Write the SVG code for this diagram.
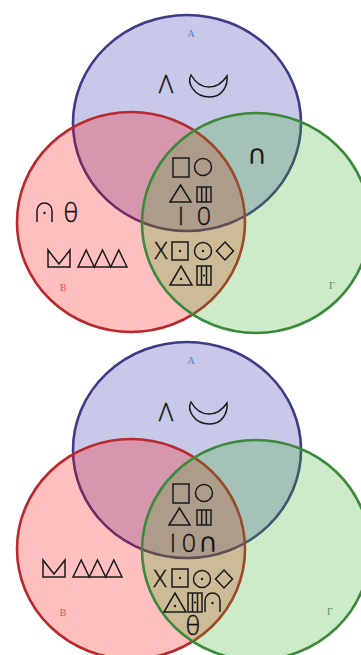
<svg xmlns="http://www.w3.org/2000/svg" width="361" height="655" viewBox="0 0 361 655">
<style>
.cA{fill:#2323a3;fill-opacity:.25;stroke:#3e3c86;stroke-width:2.6}
.cB{fill:#ff0000;fill-opacity:.25;stroke:#b8282c;stroke-width:2.6}
.cG{fill:#37af23;fill-opacity:.25;stroke:#3a8a3a;stroke-width:2.6}
.s{fill:none;stroke:#1a1a1a;stroke-width:1.5;stroke-linejoin:miter}
.dot{fill:#1a1a1a;stroke:none}
.t{font-family:"Open Sans","Liberation Sans","DejaVu Sans",sans-serif;font-weight:300;fill:#111111;stroke:#111111;stroke-width:0.4;text-anchor:middle}
.m{font-family:"DejaVu Sans",sans-serif;font-weight:400;fill:#1a1a1a;text-anchor:middle}
.lab{font-family:"Liberation Serif",serif;font-size:10px;text-anchor:middle}
.la{fill:#5b80c4}.lb{fill:#d05a5a}.lg{fill:#4f8f4f}
</style>
<defs>
<g id="sq" class="s"><rect x="0" y="0" width="16" height="19"/></g>
<g id="ci" class="s"><circle cx="8.5" cy="8.5" r="8.5"/></g>
<g id="tri" class="s"><path d="M0,17 L10.5,0 L21,17 Z"/></g>
<g id="bars" class="s"><rect width="14" height="15"/><path d="M4.7,0V15M9.3,0V15"/></g>
<g id="dsq"><rect class="s" width="16" height="18"/><circle class="dot" cx="8" cy="9" r="1.2"/></g>
<g id="dci"><circle class="s" cx="8.5" cy="8.5" r="8.5"/><circle class="dot" cx="8.5" cy="8.5" r="1.2"/></g>
<g id="dia" class="s"><path d="M8.5,0 L17,9 L8.5,18 L0,9 Z"/></g>
<g id="dtri"><path class="s" d="M0,19 L11,0 L22,19 Z"/><circle class="dot" cx="11" cy="13" r="1.2"/></g>
<g id="hbox"><rect class="s" width="14" height="19"/><path class="s" d="M4.5,0V19M9.5,0V19"/><circle class="dot" cx="7" cy="9.5" r="1.1"/></g>
<g id="arch"><path class="s" d="M0,19 V7.5 A7.5,7.5 0 0 1 15,7.5 V19"/><circle class="dot" cx="7.5" cy="10" r="1.2"/></g>
<g id="crown" class="s"><path d="M0,17 V0 L11,14 L22,0 V17 Z"/></g>
<g id="tris" class="s"><path d="M0,17 L8.2,0 L16.3,17 L24.5,0 L32.7,17 L40.8,0 L49,17 Z"/></g>
<g id="cres" class="s"><path d="M191,75 C187,82 193,97 210,97 C222,97 228,86 227,76 C221,85 215,87 209,87 C201,87 195,82 191,75 Z"/></g>
</defs>
<rect width="361" height="655" fill="#ffffff"/>

<g id="diagram1">
  <g id="d1-A"><ellipse class="cA" cx="187" cy="123" rx="114" ry="108"/><text class="lab la" x="191" y="37">A</text></g>
  <g id="d1-B"><ellipse class="cB" cx="131" cy="222" rx="114" ry="110"/><text class="lab lb" x="63" y="291">B</text></g>
  <g id="d1-G"><ellipse class="cG" cx="256" cy="223" rx="114" ry="110"/><text class="lab lg" x="332" y="289">Γ</text></g>
  <g id="d1-signs">
    <text class="t" x="166" y="93" font-size="25">Λ</text>
    <use href="#cres"/>
    <text class="m" x="257" y="164" font-size="27">∩</text>
    <use href="#sq" x="173" y="158"/>
    <use href="#ci" x="194.5" y="158.5"/>
    <use href="#tri" x="170" y="185"/>
    <use href="#bars" x="197" y="187"/>
    <text class="t" x="181" y="225" font-size="25">I</text>
    <text class="t" x="204" y="225" font-size="25">0</text>
    <text class="t" x="161" y="259" font-size="24">X</text>
    <use href="#dsq" x="172" y="242"/>
    <use href="#dci" x="194.5" y="242.5"/>
    <use href="#dia" x="216.5" y="242"/>
    <use href="#dtri" x="170" y="266"/>
    <use href="#hbox" x="197" y="266"/>
    <use href="#arch" x="37" y="203"/>
    <text class="t" x="71" y="222" font-size="25">θ</text>
    <use href="#crown" x="48" y="250"/>
    <use href="#tris" x="78" y="250"/>
  </g>
</g>

<g id="diagram2">
  <g id="d2-A"><ellipse class="cA" cx="187" cy="450" rx="114" ry="108"/><text class="lab la" x="191" y="364">A</text></g>
  <g id="d2-B"><ellipse class="cB" cx="131" cy="549" rx="114" ry="110"/><text class="lab lb" x="63" y="616">B</text></g>
  <g id="d2-G"><ellipse class="cG" cx="256" cy="550" rx="114" ry="110"/><text class="lab lg" x="330" y="615">Γ</text></g>
  <g id="d2-signs">
    <text class="t" x="166" y="421" font-size="25">Λ</text>
    <use href="#cres" y="327"/>
    <use href="#sq" x="173" y="484"/>
    <use href="#ci" x="195.5" y="484.5"/>
    <use href="#tri" x="169" y="508"/>
    <use href="#bars" x="197" y="510"/>
    <text class="t" x="173" y="552" font-size="25">I</text>
    <text class="t" x="189" y="552" font-size="25">0</text>
    <text class="m" x="208" y="552" font-size="27">∩</text>
    <use href="#crown" x="43" y="560"/>
    <use href="#tris" x="73" y="560"/>
    <text class="t" x="160" y="587" font-size="24">X</text>
    <use href="#dsq" x="172" y="569"/>
    <use href="#dci" x="193.5" y="570.5"/>
    <use href="#dia" x="215.5" y="570"/>
    <use href="#dtri" x="164" y="593"/>
    <use href="#hbox" x="188" y="593"/>
    <use href="#arch" x="205" y="593"/>
    <text class="t" x="193" y="635" font-size="25">θ</text>
  </g>
</g>
</svg>
